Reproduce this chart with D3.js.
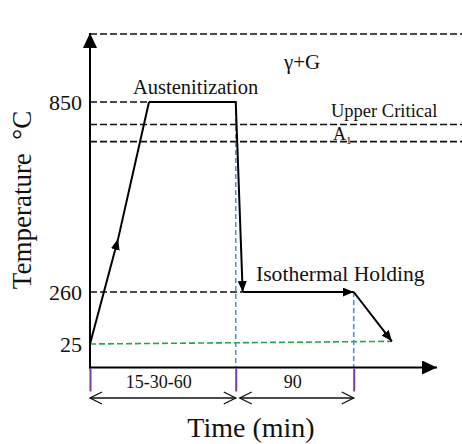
<!DOCTYPE html>
<html>
<head>
<meta charset="utf-8">
<script src="https://cdn.jsdelivr.net/npm/d3@7"></script>
<style>
  html, body { margin: 0; padding: 0; background: #fff; }
  svg { display: block; }
  text { font-family: "Liberation Serif", "Times New Roman", serif; fill: #111; }
</style>
</head>
<body>
<div id="chart"></div>
<script>
// Heat-treatment schedule: austenitize at 850 °C, quench, hold isothermally at 260 °C, cool to room temp.
// Time runs on a schematic (unit-less) stage axis; temperatures in °C.
const tempTicks = [25, 260, 850];
const upperCriticalTemp = 780;
const a1Temp = 727;
const gammaGTop = 1060;

// Schedule vertices: [stage time, temperature]
const heatingPath = [[0, 25], [8.1, 425], [17, 850]];
const processPath = [[17, 850], [42, 850], [44, 260]];
const holdingPath = [[44, 260], [76, 260]];
const coolingPath = [[76, 260], [87, 37]];
const roomTempLine = [[0, 25], [87, 37]];

// Stage boundaries and their duration labels
const stageBounds = [0, 42, 76];
const stageLabels = ["15-30-60", "90"];

const W = 462, H = 444;
const svg = d3.select("#chart").append("svg").attr("width", W).attr("height", H);
svg.append("rect").attr("width", W).attr("height", H).attr("fill", "#fff");

const x = d3.scaleLinear().domain([0, 100]).range([90, 437]);
// piecewise temperature scale: compressed below 260 °C
const y = d3.scaleLinear().domain([0, 25, 260, 850, gammaGTop]).range([367.5, 344, 292, 102, 34]);

const defs = svg.append("defs");
function arrowMarker(id, len, half) {
  defs.append("marker")
    .attr("id", id).attr("markerUnits", "userSpaceOnUse")
    .attr("viewBox", `0 ${-half} ${len} ${half * 2}`)
    .attr("refX", len).attr("refY", 0)
    .attr("markerWidth", len).attr("markerHeight", half * 2)
    .attr("orient", "auto")
    .append("path").attr("d", `M0,${-half}L${len},0L0,${half}Z`).attr("fill", "#000");
}
arrowMarker("arr", 11, 4.5);
arrowMarker("axisArr", 15, 7);

const line = d3.line().x(d => x(d[0])).y(d => y(d[1]));
const xEnd = 462;

// reference temperature dashes
const dashed = svg.append("g").attr("stroke", "#111").attr("stroke-width", 1.6)
  .attr("stroke-dasharray", "7,3").attr("fill", "none");
[gammaGTop, upperCriticalTemp, a1Temp].forEach(t => {
  dashed.append("line").attr("x1", x(0)).attr("x2", xEnd).attr("y1", y(t)).attr("y2", y(t));
});
dashed.append("line").attr("x1", x(0)).attr("x2", x(heatingPath[2][0])).attr("y1", y(850)).attr("y2", y(850));
dashed.append("line").attr("x1", x(0)).attr("x2", x(holdingPath[0][0])).attr("y1", y(260)).attr("y2", y(260));

// room temperature line
svg.append("path").datum(roomTempLine).attr("d", line)
  .attr("fill", "none").attr("stroke", "#1aaa48").attr("stroke-width", 1.6).attr("stroke-dasharray", "6,3");

// stage boundary verticals
const blue = svg.append("g").attr("stroke", "#4a8fdb").attr("stroke-width", 1.5).attr("stroke-dasharray", "5,3");
blue.append("line").attr("x1", x(stageBounds[1])).attr("x2", x(stageBounds[1])).attr("y1", y(850)).attr("y2", y(0));
blue.append("line").attr("x1", x(stageBounds[2])).attr("x2", x(stageBounds[2])).attr("y1", y(260)).attr("y2", y(0));

// schedule curve
const curve = svg.append("g").attr("fill", "none").attr("stroke", "#000").attr("stroke-width", 2);
curve.append("path").datum(heatingPath.slice(0, 2)).attr("d", line).attr("marker-end", "url(#arr)");
curve.append("path").datum(heatingPath.slice(1)).attr("d", line);
curve.append("path").datum(processPath).attr("d", line).attr("marker-end", "url(#arr)");
curve.append("path").datum(holdingPath).attr("d", line).attr("marker-end", "url(#arr)");
curve.append("path").datum(coolingPath).attr("d", line).attr("marker-end", "url(#arr)");

// axes
svg.append("line").attr("x1", x(0)).attr("x2", x(0)).attr("y1", y(0) + 1).attr("y2", 33)
  .attr("stroke", "#000").attr("stroke-width", 2).attr("marker-end", "url(#axisArr)");
svg.append("line").attr("x1", x(0) - 1).attr("x2", x(100)).attr("y1", y(0)).attr("y2", y(0))
  .attr("stroke", "#000").attr("stroke-width", 2).attr("marker-end", "url(#axisArr)");

const yAxis = svg.append("g").attr("transform", `translate(${x(0) - 1},0)`)
  .call(d3.axisLeft(y).tickValues(tempTicks).tickSize(0).tickPadding(7).tickFormat(d3.format("d")));
yAxis.select(".domain").remove();
yAxis.attr("font-size", null).attr("font-family", null);
yAxis.selectAll("text").style("font-size", "22px").attr("fill", "#111");

const xAxis = svg.append("g").attr("transform", `translate(0,${y(0) + 1})`)
  .call(d3.axisBottom(x).tickValues(stageBounds).tickSize(23).tickFormat(""));
xAxis.select(".domain").remove();
xAxis.selectAll(".tick line").attr("stroke", "#7a3aa8").attr("stroke-width", 2);

// duration spans with open double arrows
const spanY = 398;
function span(a, b, label) {
  const g = svg.append("g").attr("stroke", "#111").attr("stroke-width", 1.3).attr("fill", "none");
  g.append("line").attr("x1", a).attr("x2", b).attr("y1", spanY).attr("y2", spanY);
  g.append("path").attr("d", `M${a + 12},${spanY - 6}L${a},${spanY}L${a + 12},${spanY + 6}`);
  g.append("path").attr("d", `M${b - 12},${spanY - 6}L${b},${spanY}L${b - 12},${spanY + 6}`);
  svg.append("text").attr("x", (a + b) / 2 - 4).attr("y", 388).attr("text-anchor", "middle")
    .style("font-size", "18px").text(label);
}
span(x(stageBounds[0]), x(stageBounds[1]), stageLabels[0]);
span(x(stageBounds[1]) + 4, x(stageBounds[2]), stageLabels[1]);

// annotations
svg.append("text").attr("x", 133).attr("y", 94).style("font-size", "20.5px").text("Austenitization");
svg.append("text").attr("x", 284).attr("y", 69).style("font-size", "21px").text("γ+G");
svg.append("text").attr("x", 331).attr("y", 117).style("font-size", "18.5px").text("Upper Critical");
const a1 = svg.append("text").attr("x", 333).attr("y", 140).style("font-size", "18px");
a1.append("tspan").text("A");
a1.append("tspan").style("font-size", "11px").attr("dy", 4).text("1");
svg.append("text").attr("x", 256).attr("y", 281).style("font-size", "21.6px").text("Isothermal Holding");

// axis titles
svg.append("text").attr("x", 251).attr("y", 437).attr("text-anchor", "middle")
  .style("font-size", "28px").text("Time (min)");
svg.append("text").attr("transform", "translate(31,200) rotate(-90)").attr("text-anchor", "middle")
  .style("font-size", "27px").style("white-space", "pre").text("Temperature  °C");
</script>
</body>
</html>
